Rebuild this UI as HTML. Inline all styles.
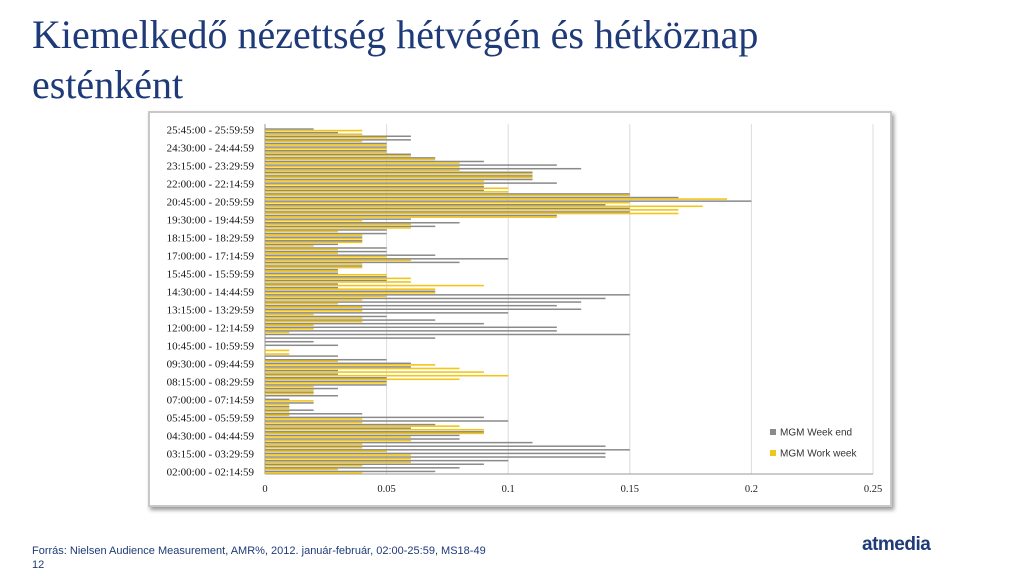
<!DOCTYPE html>
<html><head><meta charset="utf-8"><style>
body{margin:0;width:1024px;height:576px;background:#fff;overflow:hidden;position:relative;font-family:"Liberation Sans",sans-serif}
#title{position:absolute;left:32px;top:10px;width:820px;font-family:"Liberation Serif",serif;font-size:40px;line-height:50px;color:#1f3a78;margin:0;font-weight:normal}
#frame{position:absolute;left:148px;top:111px;width:740px;height:392px;border:2px solid #c8c8c8;box-shadow:2px 3px 4px #999;background:#fff}
#foot{position:absolute;left:32px;top:544px;font-size:11px;color:#1f3a78;line-height:14px}
#logo{position:absolute;left:862px;top:534px;font-size:19px;color:#1f3a78;font-weight:bold;letter-spacing:-0.5px}
</style></head><body>
<h1 id="title">Kiemelkedő nézettség hétvégén és hétköznap esténként</h1>
<div id="frame"></div>
<svg id="chart" width="1024" height="576" style="position:absolute;left:0;top:0"></svg>
<div id="foot">Forrás: Nielsen Audience Measurement, AMR%, 2012. január-február, 02:00-25:59, MS18-49<br>12</div>
<div id="logo">atmedia</div>
<script>
const weekEnd=[0.07,0.08,0.09,0.10,0.14,0.14,0.15,0.14,0.11,0.08,0.08,0.09,0.06,0.07,0.10,0.09,0.04,0.02,0.01,0.02,0.01,0.03,0.02,0.03,0.05,0.05,0.05,0.03,0.03,0.06,0.06,0.05,0.03,0,
0,0.03,0.02,0.07,0.15,0.12,0.12,0.09,0.07,0.05,0.10,0.13,0.12,0.13,0.14,0.15,0.07,0.03,0.03,0.05,0.05,0.03,0.03,0.04,0.08,0.10,0.07,0.05,0.05,0.03,0.04,0.04,
0.05,0.05,0.07,0.08,0.06,0.12,0.15,0.15,0.14,0.20,0.17,0.15,0.09,0.09,0.12,0.11,0.11,0.11,0.13,0.12,0.09,0.07,0.06,0.05,0.05,0.05,0.06,0.06,0.03,0.02];
const workWeek=[0.04,0.03,0.04,0.06,0.06,0.06,0.05,0.04,0.04,0.06,0.06,0.09,0.09,0.08,0.04,0.04,0.01,0.01,0.01,0.01,0.02,0,0.02,0.02,0.02,0.05,0.08,0.10,0.09,0.08,0.07,0.03,0,0.01,
0.01,0,0,0,0,0.01,0.02,0.02,0.04,0.04,0.02,0.04,0.04,0.03,0.04,0.05,0.07,0.07,0.09,0.06,0.06,0.05,0.03,0.04,0.04,0.06,0.05,0.03,0.03,0.02,0.04,0.04,
0.04,0.03,0.06,0.06,0.04,0.12,0.17,0.17,0.18,0.15,0.19,0.15,0.10,0.10,0.09,0.09,0.11,0.11,0.08,0.08,0.08,0.07,0.06,0.05,0.05,0.05,0.04,0.05,0.04,0.04];
const xTicks=[0,0.05,0.1,0.15,0.2,0.25];
const xTickLabels=["0","0.05","0.1","0.15","0.2","0.25"];
const startMinutes=120, slotMinutes=15, labelEvery=5;

const NS="http://www.w3.org/2000/svg";
const svg=document.getElementById('chart');
const X0=265,X1=873,Ytop=128,Ybot=474,N=weekEnd.length;
const slotH=(Ybot-Ytop)/N;
const xs=v=>X0+(v/0.25)*(X1-X0);
const ys=i=>Ybot-(i+1)*slotH;
function mk(t,a){const e=document.createElementNS(NS,t);for(const k in a)e.setAttribute(k,a[k]);svg.appendChild(e);return e;}
function pad(n){return String(n).padStart(2,'0');}
function tlabel(m){const h=Math.floor(m/60),mm=m%60;const e=m+slotMinutes-1;return pad(h)+':'+pad(mm)+':00 - '+pad(Math.floor(e/60))+':'+pad(e%60)+':59';}
xTicks.forEach((t,i)=>{
  const g=mk('line',{x1:xs(t),x2:xs(t),y1:Ytop-4,y2:Ybot,stroke:i==0?'#999':'#dcdcdc','stroke-width':1});
  
  
  const tx=mk('text',{x:xs(t),y:492,'text-anchor':'middle','font-size':10.5,'font-family':'Liberation Serif, serif',fill:'#222'});
  tx.textContent=xTickLabels[i];
  
  
});
mk('line',{x1:X0,x2:X1,y1:Ybot,y2:Ybot,stroke:'#999'});
for(let i=0;i<N;i++){
  const y=ys(i);
  const bg=mk('rect',{x:X0,y:y+0.3,width:Math.max(0,xs(weekEnd[i])-X0),height:1.5,fill:'#8a8a8a'});
  
  
  const by=mk('rect',{x:X0,y:y+1.8,width:Math.max(0,xs(workWeek[i])-X0),height:1.6,fill:'#f2c51a'});
  
  
  if(i%labelEvery==0){
    const t=mk('text',{x:254,y:y+slotH/2+3.5,'text-anchor':'end','font-size':11,'font-family':'Liberation Serif, serif',fill:'#111'});
    t.textContent=tlabel(startMinutes+i*slotMinutes);
    
    
  }
}
[['MGM Week end','#8a8a8a',432],['MGM Work week','#f2c51a',453]].forEach(l=>{
  const r=mk('rect',{x:770,y:l[2]-3,width:6,height:6,fill:l[1]});
  
  
  const t=mk('text',{x:780,y:l[2]+3.5,'font-size':10,'font-family':'Liberation Sans, sans-serif',fill:'#333'});
  t.textContent=l[0];
  
  
});
</script>
</body></html>
